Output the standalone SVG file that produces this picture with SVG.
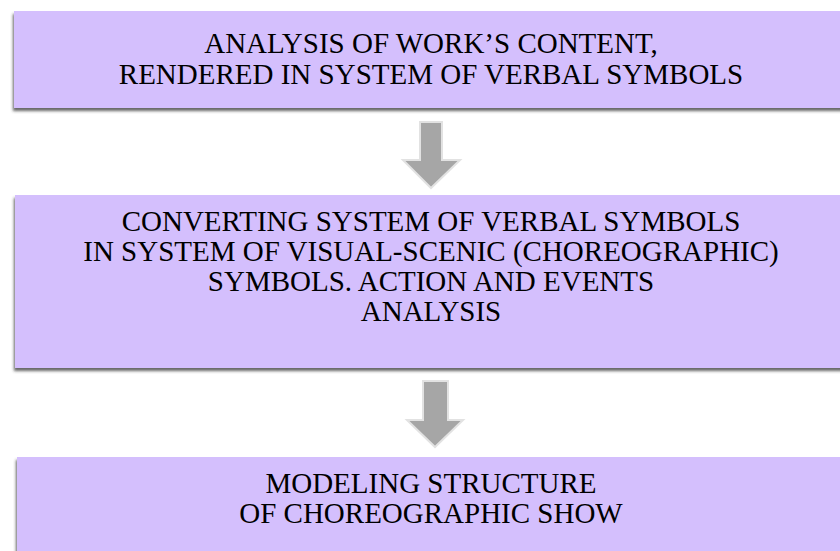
<svg xmlns="http://www.w3.org/2000/svg" width="840" height="551" viewBox="0 0 840 551">
<defs>
<filter id="sh" x="-5%" y="-10%" width="110%" height="125%">
<feDropShadow dx="-1" dy="3" stdDeviation="1.6" flood-color="#333" flood-opacity="0.75"/>
</filter>
</defs>
<style>
.box{fill:#d4bffd;filter:url(#sh)}
.t{font-family:"Liberation Serif","Times New Roman",serif;font-size:29px;fill:#000;text-anchor:middle}
.arr{fill:#a6a6a6;stroke:#e2e2e2;stroke-width:2;stroke-linejoin:miter}
</style>
<rect width="840" height="551" fill="#fff"/>
<g id="node1">
<rect class="box" x="14" y="11" width="840" height="97"/>
<text class="t" x="431" y="53">ANALYSIS OF WORK’S CONTENT,</text>
<text class="t" x="431" y="84">RENDERED IN SYSTEM OF VERBAL SYMBOLS</text>
</g>
<g id="node2">
<rect class="box" x="15" y="195" width="840" height="173"/>
<text class="t" x="431" y="231">CONVERTING SYSTEM OF VERBAL SYMBOLS</text>
<text class="t" x="431" y="261">IN SYSTEM OF VISUAL-SCENIC (CHOREOGRAPHIC)</text>
<text class="t" x="431" y="291">SYMBOLS. ACTION AND EVENTS</text>
<text class="t" x="431" y="321">ANALYSIS</text>
</g>
<g id="node3">
<rect class="box" x="17" y="457" width="840" height="120"/>
<text class="t" x="431" y="493">MODELING STRUCTURE</text>
<text class="t" x="431" y="523">OF CHOREOGRAPHIC SHOW</text>
</g>
<g id="connectors">
<polygon class="arr" points="420,122 442,122 442,160 460,160 431,188 403,160 420,160"/>
<polygon class="arr" points="423,381 448,381 448,420 463,420 435,447 407,420 423,420"/>
</g>
</svg>
